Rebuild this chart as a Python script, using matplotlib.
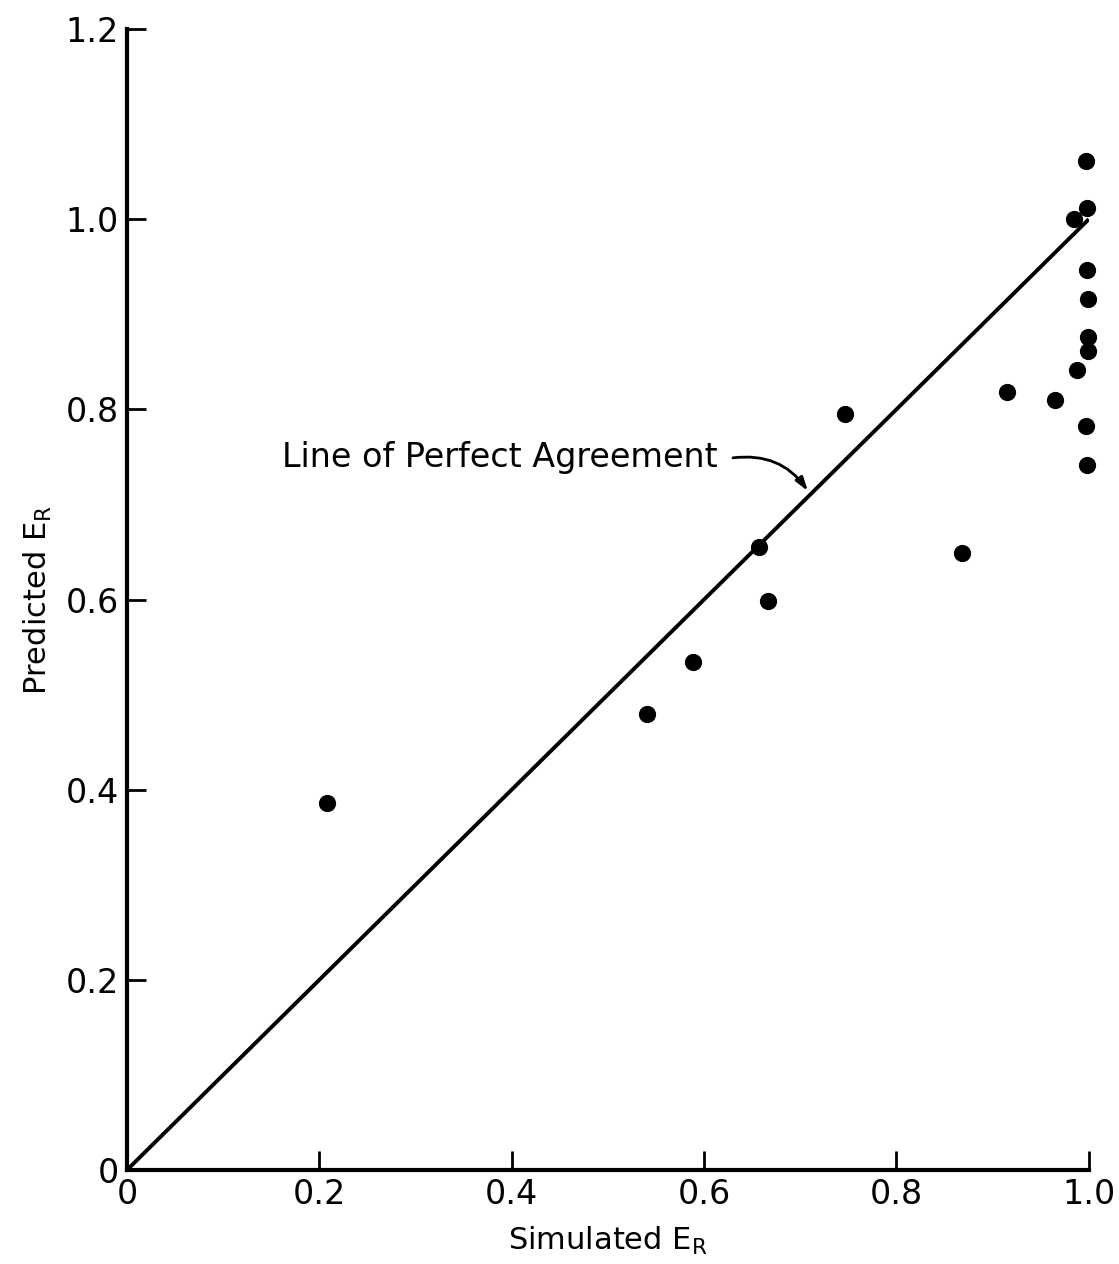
import matplotlib
matplotlib.use("Agg")
import matplotlib.pyplot as plt

# simulated vs predicted E_R
simulated = [0.208, 0.541, 0.589, 0.657, 0.666, 0.747, 0.868, 0.915, 0.965,
             0.988, 0.985, 0.997, 0.998, 0.998, 0.999, 0.999, 0.999, 0.997, 0.998]
predicted = [0.386, 0.480, 0.534, 0.655, 0.598, 0.795, 0.649, 0.818, 0.810,
             0.841, 1.000, 1.061, 1.012, 0.947, 0.916, 0.876, 0.861, 0.783, 0.742]

x_ticks = [0, 0.2, 0.4, 0.6, 0.8, 1.0]
x_labels = ["0", "0.2", "0.4", "0.6", "0.8", "1.0"]
y_ticks = [0, 0.2, 0.4, 0.6, 0.8, 1.0, 1.2]
y_labels = ["0", "0.2", "0.4", "0.6", "0.8", "1.0", "1.2"]

fig = plt.figure(figsize=(11.19, 12.64), dpi=100)
ax = fig.add_axes([0.1135, 0.0744, 0.8595, 0.9026])

# line of perfect agreement
ax.plot([0, 1], [0, 1], color="black", linewidth=2.8, solid_capstyle="butt")
ax.scatter(simulated, predicted, s=130, color="black", zorder=3, clip_on=False)

ax.set_xlim(0, 1.0)
ax.set_ylim(0, 1.2)
ax.set_xticks(x_ticks)
ax.set_xticklabels(x_labels)
ax.set_yticks(y_ticks)
ax.set_yticklabels(y_labels)

for side in ["top", "right"]:
    ax.spines[side].set_visible(False)
for side in ["left", "bottom"]:
    ax.spines[side].set_linewidth(3)
ax.tick_params(direction="in", length=14, width=2, labelsize=24, pad=6)

ax.set_xlabel(r"Simulated E$_\mathregular{R}$", fontsize=22, labelpad=10)
ax.set_ylabel(r"Predicted E$_\mathregular{R}$", fontsize=22, labelpad=8)

ax.text(0.614, 0.749, "Line of Perfect Agreement", fontsize=24,
        ha="right", va="center")
ax.annotate("", xy=(0.708, 0.714), xytext=(0.630, 0.749),
            arrowprops=dict(arrowstyle="-|>,head_length=0.8,head_width=0.25",
                            color="black", lw=2,
                            connectionstyle="arc3,rad=-0.3",
                            shrinkA=0, shrinkB=0))

fig.savefig("out.png", dpi=100)
